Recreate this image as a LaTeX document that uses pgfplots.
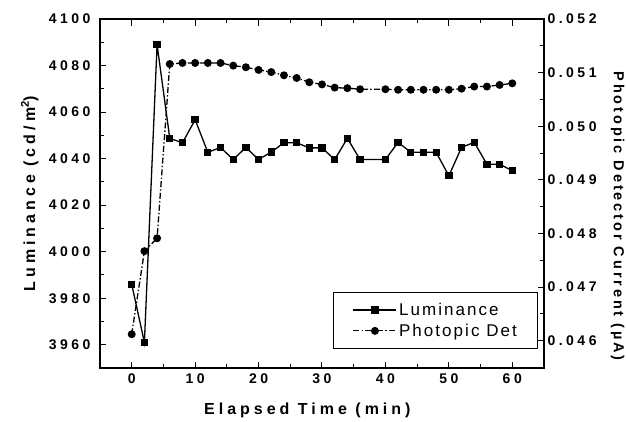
\documentclass[border=0pt]{standalone}
\usepackage{fontspec}
\setmainfont{Liberation Sans}
\newfontfamily\spc{Liberation Sans}[LetterSpace=25]
\newfontfamily\spcr{Liberation Sans}[LetterSpace=20]
\newfontfamily\spcl{Liberation Sans}[LetterSpace=12]
\usepackage{pgfplots}
\pgfplotsset{compat=1.18}

\newcommand\tickfont{\spc\bfseries\fontsize{14}{14}\selectfont}
\newcommand\labfont{\spc\bfseries\fontsize{16}{16}\selectfont}
\newcommand\rlabfont{\spcr\bfseries\fontsize{14.5}{14.5}\selectfont}
\newcommand\legfont{\spcl\fontsize{17}{17}\selectfont}

\pgfplotstableread{
x lum
0 3986
2 3961
4 4089
6 4048.7
8 4046.8
10 4056.7
12 4042.7
14 4044.8
16 4039.6
18 4044.8
20 4039.6
22 4042.8
24 4046.8
26 4046.8
28 4044.6
30 4044.6
32 4039.6
34 4048.7
36 4039.6
40 4039.6
42 4047
44 4042.7
46 4042.7
48 4042.7
50 4032.6
52 4044.8
54 4047
56 4037.6
58 4037.6
60 4034.8
}\lumdata

\pgfplotstableread{
x pd
0 0.04612
2 0.04767
4 0.04791
6 0.05116
8 0.05118
10 0.05118
12 0.05118
14 0.05118
16 0.05113
18 0.05110
20 0.05105
22 0.05101
24 0.05095
26 0.05090
28 0.05082
30 0.05078
32 0.05072
34 0.05071
36 0.05069
40 0.05069
42 0.05068
44 0.05068
46 0.05068
48 0.05068
50 0.05068
52 0.05070
54 0.05074
56 0.05074
58 0.05077
60 0.05080
}\pddata

\pgfplotsset{
  base/.style={
    scale only axis, width=444pt, height=349pt,
    xmin=-5, xmax=65,
    axis line style={line width=1.2pt, -},
    every tick/.style={line width=1pt, black},
    major tick length=6.5pt, minor tick length=4pt,
    tick align=inside,
    tick label style={font=\tickfont},
    label style={font=\labfont},
    /pgf/number format/assume math mode=true,
    /pgf/number format/set thousands separator={},
  },
}

\begin{document}
\begin{tikzpicture}
\begin{axis}[base, name=ax,
  ymin=3950, ymax=4100,
  ytick={3960,3980,...,4100}, minor y tick num=1,
  xtick={0,10,...,60}, minor x tick num=1,
  ytick pos=left, xticklabel pos=lower,
  yticklabel style={xshift=-6pt},
  xticklabel style={yshift=-2pt},
  xlabel={Elapsed Time (min)},
  ylabel={Luminance (cd/m\textsuperscript{2})},
  xlabel style={at={(axis description cs:0.467,-0.12)}, anchor=center},
  ylabel style={at={(axis description cs:-0.158,0.5)}, anchor=center},
]
\addplot[black, line width=1.3pt, mark=square*, mark size=3pt] table[x=x, y=lum] {\lumdata};
\end{axis}
\begin{axis}[base,
  ymin=0.04549, ymax=0.052,
  axis x line=none, axis y line*=right,
  ytick={0.046,0.047,0.048,0.049,0.050,0.051,0.052}, minor y tick num=1,
  scaled y ticks=false,
  yticklabel style={/pgf/number format/.cd, fixed, fixed zerofill, precision=3},
  ylabel={Photopic Detector Current (\textmu A)},
  ylabel style={font=\rlabfont, at={(axis description cs:1.166,0.435)}, anchor=center, rotate=180},
  legend style={at={(0.987,0.054)}, anchor=south east, draw=black, line width=0.8pt,
    font=\legfont, inner xsep=19pt, inner ysep=9pt, row sep=3pt, cells={anchor=west}},
  legend image code/.code={
    \draw[#1, line width=1.3pt, mark=none] (0pt,0pt) -- (43pt,0pt);
    \draw[#1, solid] plot coordinates {(21.5pt,0pt)};
  },
]
\addlegendimage{black, line width=1.3pt, mark=square*, mark size=3pt}
\addlegendentry{Luminance}
\addplot[black, line width=1.3pt, mark=*, mark size=3.3pt,
  dash pattern=on 6pt off 2.2pt on 1.4pt off 2.2pt,
  mark options={solid}] table[x=x, y=pd] {\pddata};
\addlegendentry{Photopic Det}
\end{axis}
\pgfresetboundingbox
\path ([shift={(-100pt,-53pt)}]ax.south west) rectangle ([shift={(82pt,19pt)}]ax.north east);
\end{tikzpicture}
\end{document}
